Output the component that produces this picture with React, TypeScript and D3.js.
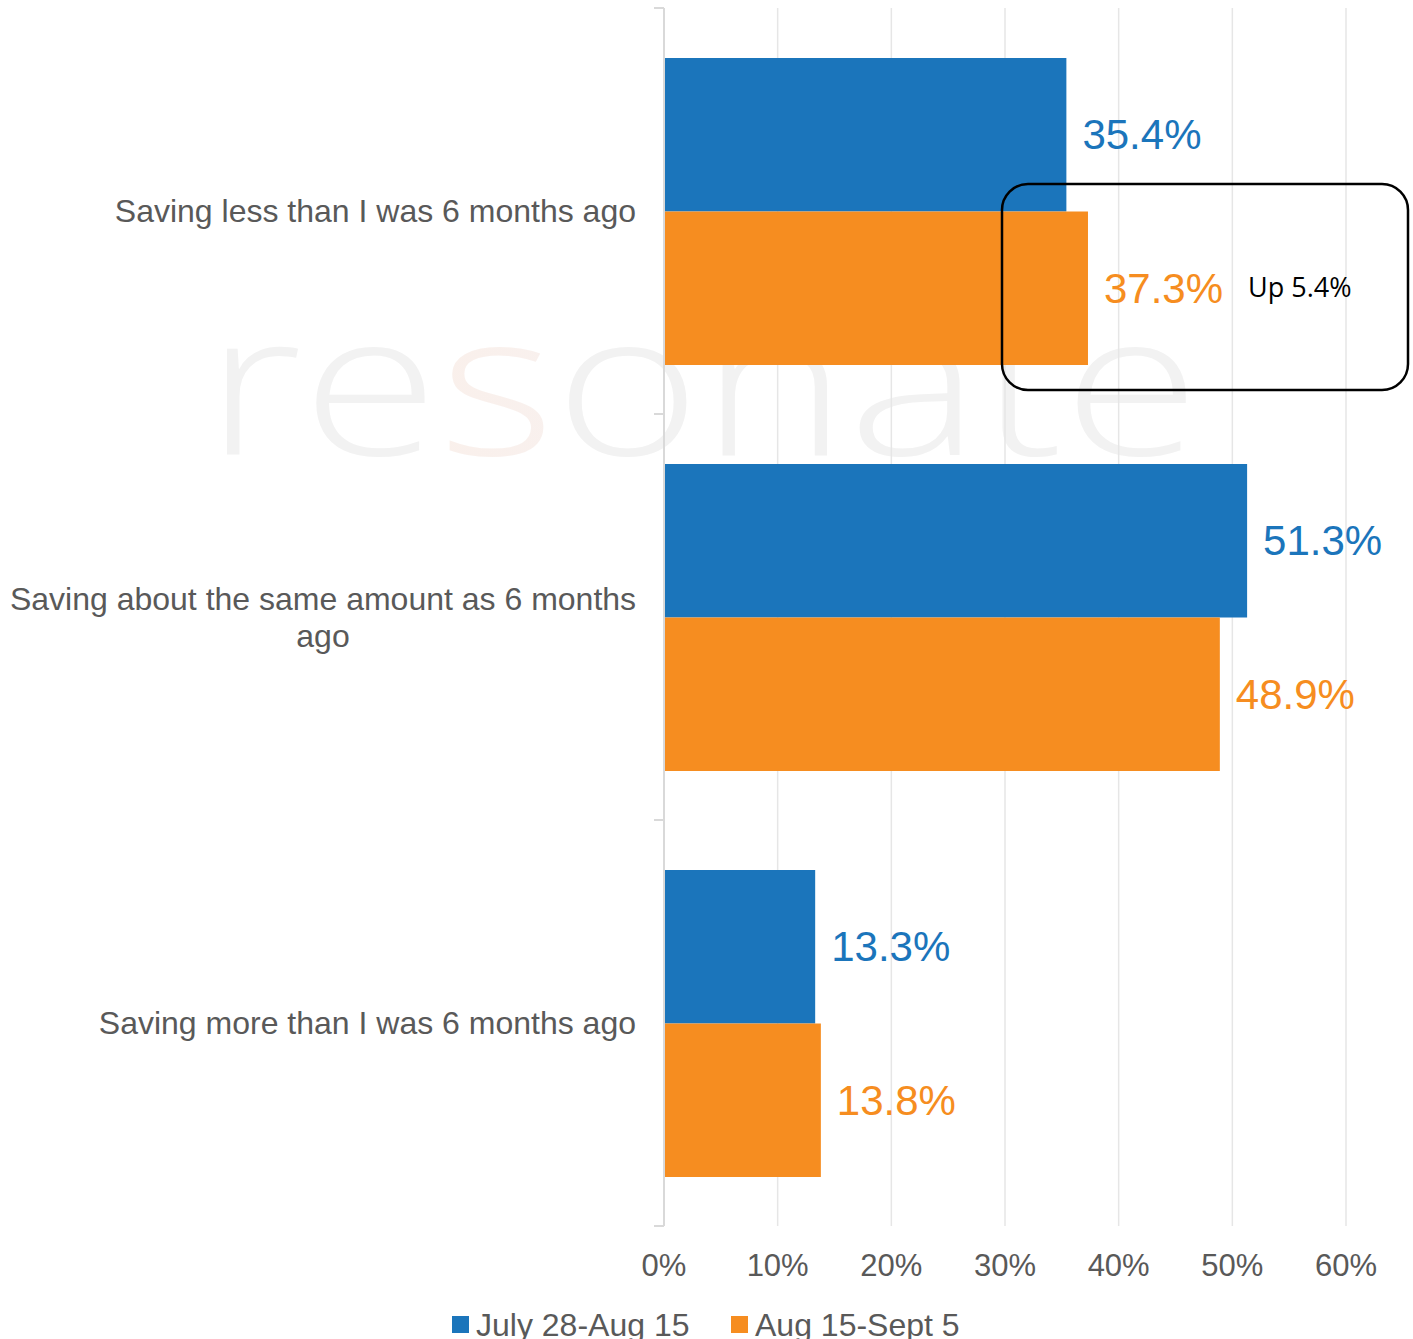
import React from "react";
import * as d3 from "d3";

const categories = [
  "Saving less than I was 6 months ago",
  "Saving about the same amount as 6 months ago",
  "Saving more than I was 6 months ago",
];
const categoryLines = [
  ["Saving less than I was 6 months ago"],
  ["Saving about the same amount as 6 months", "ago"],
  ["Saving more than I was 6 months ago"],
];
const seriesNames = ["July 28-Aug 15", "Aug 15-Sept 5"];
const julyValues = [35.4, 51.3, 13.3];
const augValues = [37.3, 48.9, 13.8];
const xTicks = [0, 10, 20, 30, 40, 50, 60];
const annotationText = "Up 5.4%";

const BLUE = "#1b75bb";
const ORANGE = "#f68d20";
const GRAY_TEXT = "#595959";
const FONT = "'Liberation Sans', Arial, sans-serif";

export default function App() {
  const W = 1413;
  const H = 1339;
  const x = d3.scaleLinear().domain([0, 60]).range([664, 1346]);
  const y = d3.scaleBand<string>().domain(categories).range([8, 1226]).padding(0);
  const inner = d3.scaleBand<string>().domain(seriesNames).range([50, 357]).padding(0);
  const colors = [BLUE, ORANGE];
  const series = [julyValues, augValues];
  const bounds = [8, 414, 820, 1226];

  return (
    <svg
      width={W}
      height={H}
      style={{ position: "absolute", left: 0, top: 0, background: "#fff" }}
      fontFamily={FONT}
    >
      <defs>
        <linearGradient id="sgrad" x1="0" x2="1" y1="0" y2="0">
          <stop offset="0" stopColor="#fcefe6" />
          <stop offset="0.5" stopColor="#f7f1f1" />
          <stop offset="1" stopColor="#edf2f8" />
        </linearGradient>
      </defs>
      {/* watermark */}
      <text
        x={205}
        y={455}
        fontSize={200}
        fontFamily="'Open Sans', 'Noto Sans', sans-serif"
        fontWeight={300}
        fill="#f2f2f2"
        textLength={995}
        lengthAdjust="spacingAndGlyphs"
      >
        re<tspan fill="url(#sgrad)">s</tspan>onate
      </text>

      {/* gridlines */}
      {xTicks.slice(1).map((t) => (
        <line key={t} x1={x(t)} x2={x(t)} y1={8} y2={1226} stroke="#e6e6e6" strokeWidth={1.5} />
      ))}

      {/* bars */}
      {series.map((vals, si) =>
        vals.map((v, ci) => {
          const by = (y(categories[ci]) as number) + (inner(seriesNames[si]) as number);
          return (
            <rect
              key={`${si}-${ci}`}
              x={x(0)}
              y={by}
              width={x(v) - x(0)}
              height={inner.bandwidth()}
              fill={colors[si]}
            />
          );
        })
      )}

      {/* axis line and ticks */}
      <line x1={664} x2={664} y1={8} y2={1226} stroke="#d9d9d9" strokeWidth={2} />
      {bounds.map((b) => (
        <line key={b} x1={654} x2={664} y1={b} y2={b} stroke="#d9d9d9" strokeWidth={2} />
      ))}

      {/* value labels */}
      {series.map((vals, si) =>
        vals.map((v, ci) => {
          const by = (y(categories[ci]) as number) + (inner(seriesNames[si]) as number) + inner.bandwidth() / 2;
          return (
            <text
              key={`l${si}-${ci}`}
              x={x(v) + 16}
              y={by}
              dy="0.35em"
              fontSize={42}
              fill={colors[si]}
            >
              {v.toFixed(1)}%
            </text>
          );
        })
      )}

      {/* category labels */}
      {categoryLines.map((lines, ci) => {
        const cy = (y(categories[ci]) as number) + y.bandwidth() / 2;
        const lh = 37;
        const start = cy - ((lines.length - 1) * lh) / 2;
        return (
          <text key={ci} textAnchor={lines.length > 1 ? "middle" : "end"} fontSize={32} fill={GRAY_TEXT}>
            {lines.map((ln, li) => (
              <tspan key={li} x={lines.length > 1 ? 323 : 636} y={start + li * lh} dy="0.35em">
                {ln}
              </tspan>
            ))}
          </text>
        );
      })}

      {/* x tick labels */}
      {xTicks.map((t) => (
        <text key={t} x={x(t)} y={1265} dy="0.35em" textAnchor="middle" fontSize={31} fill={GRAY_TEXT}>
          {t}%
        </text>
      ))}

      {/* annotation */}
      <rect x={1002} y={184} width={406} height={206} rx={26} ry={26} fill="none" stroke="#000" strokeWidth={2.5} />
      <text
        x={1248}
        y={288}
        dy="0.35em"
        fontSize={27}
        fontFamily="'Open Sans', 'Noto Sans', sans-serif"
        fill="#000"
      >
        {annotationText}
      </text>

      {/* legend */}
      {seriesNames.map((s, i) => {
        const lx = i === 0 ? 452 : 731;
        return (
          <g key={s}>
            <rect x={lx} y={1316} width={17} height={17} fill={colors[i]} />
            <text x={lx + 24} y={1336} fontSize={32} fill={GRAY_TEXT}>
              {s}
            </text>
          </g>
        );
      })}
    </svg>
  );
}
